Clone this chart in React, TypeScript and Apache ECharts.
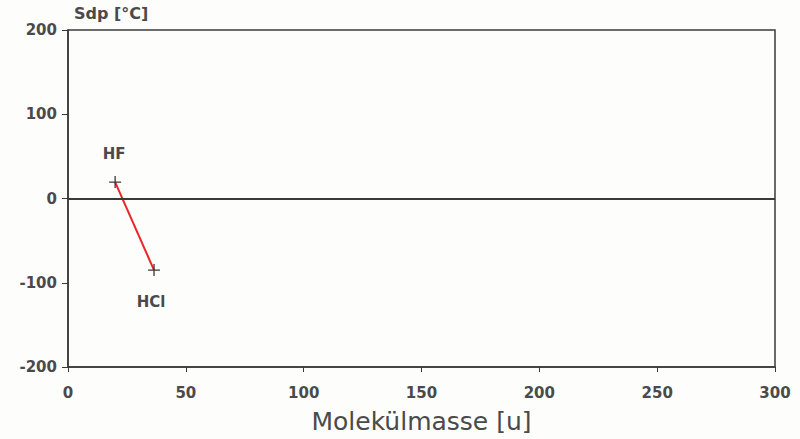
import React, { useEffect, useRef } from "react";
import * as echarts from "echarts";

const compounds = ["HF", "HCl"];
const molMass = [20, 36.5];
const boilingPoint = [19.5, -85];
const xTicks = [0, 50, 100, 150, 200, 250, 300];
const yTicks = [-200, -100, 0, 100, 200];

export default function App() {
  const ref = useRef<HTMLDivElement>(null);
  useEffect(() => {
    if (!ref.current) return;
    const chart = echarts.init(ref.current, undefined, { renderer: "svg" });
    const font = "DejaVu Sans, Liberation Sans, sans-serif";
    const ink = "#3a3a3a";
    const txt = "#4a4a4a";
    const pts = compounds.map((c, i) => ({
      value: [molMass[i], boilingPoint[i]],
      name: c,
      label: {
        show: true,
        formatter: c,
        position: i === 0 ? "top" : "bottom",
        distance: i === 0 ? 14 : 18,
        offset: i === 0 ? [-1, 0] : [-3, 0],
        color: txt,
        fontSize: 15,
        fontWeight: "bold",
        fontFamily: font,
      },
    }));
    chart.setOption({
      animation: false,
      backgroundColor: "#fdfdfb",
      grid: {
        left: 68,
        right: 25,
        top: 30,
        bottom: 72,
        show: true,
        borderColor: ink,
        borderWidth: 1.5,
        backgroundColor: "transparent",
      },
      xAxis: {
        type: "value",
        min: xTicks[0],
        max: xTicks[xTicks.length - 1],
        interval: 50,
        name: "Molekülmasse [u]",
        nameLocation: "middle",
        nameGap: 42,
        nameTextStyle: { fontSize: 25, color: "#4a4a4a", fontFamily: font },
        axisLine: { show: true, onZero: false, lineStyle: { color: ink, width: 1.5 } },
        axisTick: { show: true, inside: false, length: 5, lineStyle: { color: ink } },
        axisLabel: { color: txt, fontSize: 15, fontWeight: "bold", fontFamily: font, margin: 18 },
        splitLine: { show: false },
      },
      yAxis: {
        type: "value",
        min: yTicks[0],
        max: yTicks[yTicks.length - 1],
        interval: 100,
        name: "Sdp [°C]",
        nameLocation: "end",
        nameGap: 9,
        nameTextStyle: { fontSize: 16, color: txt, fontFamily: font, align: "left", padding: [0, 0, 0, 6], fontWeight: "bold" },
        axisLine: { show: true, onZero: false, lineStyle: { color: ink, width: 1.5 } },
        axisTick: { show: true, inside: false, length: 6, lineStyle: { color: ink } },
        axisLabel: { color: txt, fontSize: 15, fontWeight: "bold", fontFamily: font, margin: 11 },
        splitLine: { show: false },
      },
      series: [
        {
          type: "line",
          data: pts,
          symbol: "path://M0,5L10,5M5,0L5,10",
          symbolSize: 12,
          itemStyle: { color: "rgba(0,0,0,0)", borderColor: ink, borderWidth: 1.3 },
          lineStyle: { color: "#e8262a", width: 2 },
          markLine: {
            silent: true,
            symbol: "none",
            label: { show: false },
            lineStyle: { color: ink, width: 1.8, type: "solid" },
            data: [{ yAxis: 0 }],
          },
          z: 3,
        },
      ],
    });
    return () => chart.dispose();
  }, []);
  return (
    <div
      ref={ref}
      style={{ position: "fixed", left: 0, top: 0, width: 800, height: 439 }}
    />
  );
}
